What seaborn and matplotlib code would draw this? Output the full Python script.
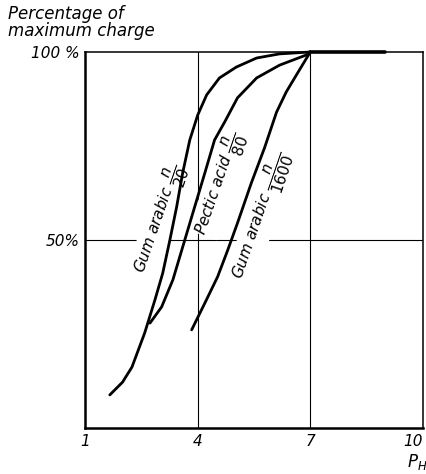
import matplotlib
matplotlib.use("Agg")
import matplotlib.pyplot as plt
import seaborn as sns
import pandas as pd

# ---- data ----
ph_gum20 = [1.66, 2.0, 2.25, 2.59, 2.86, 3.07, 3.26, 3.44, 3.60, 3.79, 4.0, 4.24, 4.58, 5.03, 5.57, 6.18, 7.0]
ch_gum20 = [8.8, 12.2, 16.2, 25.3, 34.0, 41.2, 50.0, 58.8, 67.8, 76.6, 83.2, 88.6, 93.1, 96.0, 98.4, 99.5, 100.0]

ph_pectic80 = [2.73, 3.04, 3.34, 3.60, 3.92, 4.19, 4.45, 4.72, 5.06, 5.57, 6.18, 6.89, 7.0]
ch_pectic80 = [27.9, 32.2, 39.4, 48.1, 58.8, 67.8, 76.6, 81.4, 87.8, 93.1, 96.5, 99.2, 100.0]

ph_gum1600 = [3.84, 4.19, 4.53, 4.80, 5.06, 5.43, 5.78, 6.10, 6.36, 6.63, 6.92, 7.0]
ch_gum1600 = [26.1, 33.2, 40.2, 47.3, 54.5, 65.2, 74.5, 84.0, 89.4, 93.9, 98.7, 100.0]

ph_plateau = [7.0, 9.0]
ch_plateau = [100.0, 100.0]

x_ticks = [1, 4, 7, 10]
x_tick_labels = ["1", "4", "7", "10"]
y_ticks = [50, 100]
y_tick_labels = ["50%", "100 %"]

labels = [r"Gum arabic $\dfrac{\mathit{n}}{\mathit{20}}$",
          r"Pectic acid $\dfrac{\mathit{n}}{\mathit{80}}$",
          r"Gum arabic $\dfrac{\mathit{n}}{\mathit{1600}}$"]
label_pos = [(3.0, 55.5), (4.6, 65.0), (5.7, 56.5)]

sns.set_style("white")
plt.rcParams["font.family"] = ["DejaVu Sans"]
plt.rcParams["mathtext.fontset"] = "dejavusans"
plt.rcParams["text.color"] = "black"
plt.rcParams["xtick.color"] = "black"
plt.rcParams["ytick.color"] = "black"

fig = plt.figure(figsize=(4.27, 4.74), dpi=100)
ax = fig.add_axes([85/427, 1 - 428/474, (423 - 85)/427, (428 - 52)/474])

frames = []
for name, xs, ys in [("g20", ph_gum20, ch_gum20), ("p80", ph_pectic80, ch_pectic80),
                     ("g1600", ph_gum1600, ch_gum1600), ("plateau", ph_plateau, ch_plateau)]:
    frames.append(pd.DataFrame({"pH": xs, "charge": ys, "series": name}))
df = pd.concat(frames, ignore_index=True)

for name, sub in df.groupby("series", sort=False):
    lw = 2.6 if name == "plateau" else 2.0
    sns.lineplot(data=sub, x="pH", y="charge", ax=ax, color="black", lw=lw,
                 sort=False, estimator=None, clip_on=False, zorder=4,
                 solid_joinstyle="round", solid_capstyle="round")

ax.set_xlim(1, 10)
ax.set_ylim(0, 100)
ax.set_xticks(x_ticks)
ax.set_xticklabels(x_tick_labels, fontsize=11, style="italic", color="black")
ax.set_yticks(y_ticks)
ax.set_yticklabels(y_tick_labels, fontsize=11, style="italic", color="black")
ax.tick_params(length=0, pad=4)
ax.get_xticklabels()[-1].set_horizontalalignment("right")
ax.set_xlabel("")
ax.set_ylabel("")

for side, s in ax.spines.items():
    s.set_color("black")
    s.set_linewidth(1.8 if side in ("left", "bottom") else 1.1)

for xv in [4, 7]:
    ax.axvline(xv, color="black", lw=0.8, zorder=1)
ax.axhline(50, color="black", lw=0.8, zorder=1)

for txt, (lx, ly) in zip(labels, label_pos):
    ax.text(lx, ly, txt, rotation=71, rotation_mode="anchor", ha="center", va="center",
            fontsize=11, style="italic", zorder=3, color="black",
            bbox=dict(facecolor="white", edgecolor="none", pad=0.3))

fig.text(8/427, 1 - 5/474, "Percentage of\nmaximum charge", ha="left", va="top",
         fontsize=12, style="italic", linespacing=0.9, color="black")
fig.text(407/427, 2/474, r"$P_H$", ha="left", va="bottom", fontsize=12, color="black")

fig.savefig("out.png", dpi=100)
